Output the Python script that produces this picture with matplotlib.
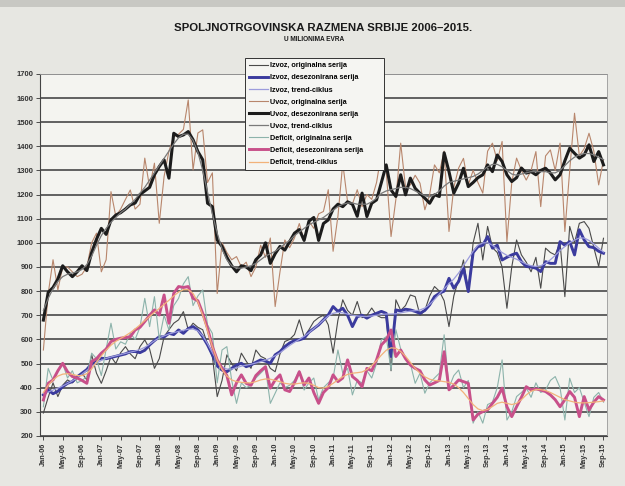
import numpy as np
import pandas as pd
import matplotlib
matplotlib.use("Agg")
import matplotlib.pyplot as plt
from matplotlib.patches import Rectangle

plt.rcParams['font.family'] = ['Liberation Sans', 'DejaVu Sans']

# monthly categories Jan-06 .. Sep-15
months = pd.date_range('2006-01-01', '2015-09-01', freq='MS').strftime('%b-%y').tolist()

# exports (izvoz), million EUR
izvoz_orig = [295, 360, 420, 363, 410, 432, 420, 440, 460, 432, 536, 460,
              418, 470, 529, 500, 545, 570, 540, 520, 570, 598, 560, 480,
              520, 611, 640, 667, 681, 715, 640, 667, 650, 640, 580, 529,
              363, 430, 536, 500, 470, 543, 510, 480, 556, 530, 520, 480,
              466, 540, 591, 600, 620, 681, 611, 640, 674, 690, 700, 660,
              543, 680, 764, 720, 700, 757, 690, 700, 730, 700, 690, 690,
              470, 764, 720, 740, 784, 777, 700, 720, 780, 819, 800, 760,
              653, 780, 850, 929, 800, 1000, 1081, 929, 1068, 980, 960, 900,
              729, 900, 1012, 950, 920, 880, 940, 812, 978, 960, 950, 1000,
              777, 1068, 1000, 1081, 1088, 1060, 980, 902, 1019]
izvoz_desez = [370, 390, 375, 385, 404, 418, 425, 445, 460, 475, 500, 515,
               522, 520, 525, 530, 535, 540, 549, 550, 545, 555, 577, 595,
               611, 610, 625, 620, 639, 625, 645, 653, 639, 611, 577, 536,
               490, 473, 466, 480, 494, 501, 487, 494, 505, 515, 510, 501,
               536, 549, 570, 585, 595, 598, 605, 630, 645, 660, 681, 701,
               736, 716, 729, 700, 653, 694, 700, 688, 700, 708, 716, 708,
               529, 722, 718, 725, 722, 716, 708, 720, 743, 777, 791, 800,
               853, 812, 840, 895, 798, 960, 984, 990, 1026, 978, 990, 929,
               940, 950, 957, 922, 902, 900, 895, 881, 922, 915, 915, 1005,
               990, 1005, 950, 1054, 1012, 984, 980, 965, 957]
izvoz_trend = [375, 382, 390, 398, 407, 417, 428, 441, 456, 472, 488, 502,
               513, 521, 527, 532, 537, 542, 547, 552, 558, 567, 580, 594,
               606, 615, 622, 628, 633, 638, 642, 643, 635, 615, 582, 545,
               510, 487, 477, 477, 483, 489, 493, 497, 502, 508, 514, 522,
               532, 545, 560, 575, 588, 600, 613, 628, 645, 662, 680, 697,
               708, 712, 710, 705, 700, 697, 695, 695, 697, 700, 703, 705,
               705, 706, 710, 714, 717, 719, 722, 730, 745, 765, 788, 810,
               830, 850, 875, 905, 935, 965, 990, 1000, 1000, 990, 975, 960,
               948, 940, 932, 922, 912, 905, 902, 905, 915, 930, 948, 968,
               985, 1000, 1012, 1020, 1020, 1010, 995, 978, 962]

# imports (uvoz), million EUR
uvoz_orig = [556, 790, 930, 805, 900, 900, 880, 860, 870, 900, 1000, 1040,
             880, 930, 1212, 1110, 1140, 1180, 1219, 1140, 1160, 1351, 1230, 1330,
             1081, 1275, 1380, 1440, 1450, 1470, 1592, 1302, 1455, 1468, 1250, 1290,
             790, 1000, 960, 930, 943, 900, 920, 860, 900, 990, 940, 1020,
             736, 880, 1012, 980, 1020, 1080, 1010, 1090, 1060, 1120, 1130, 1220,
             965, 1110, 1330, 1170, 1160, 1220, 1150, 1200, 1180, 1250, 1371, 1300,
             1026, 1180, 1413, 1230, 1240, 1280, 1247, 1137, 1200, 1323, 1290, 1380,
             1047, 1230, 1310, 1350, 1240, 1300, 1250, 1206, 1380, 1413, 1340, 1420,
             1005, 1250, 1351, 1300, 1260, 1300, 1378, 1150, 1360, 1385, 1300, 1413,
             1047, 1300, 1537, 1360, 1390, 1454, 1380, 1240, 1344]
uvoz_desez = [680, 795, 815, 850, 905, 880, 860, 880, 905, 885, 960, 1015,
              1060, 1035, 1095, 1115, 1125, 1140, 1157, 1165, 1200, 1215, 1230, 1282,
              1316, 1344, 1268, 1454, 1440, 1447, 1461, 1427, 1378, 1344, 1164, 1150,
              1012, 985, 940, 905, 880, 905, 900, 885, 930, 950, 1000, 915,
              955, 985, 970, 1005, 1040, 1055, 1010, 1090, 1105, 1010, 1080, 1095,
              1140, 1160, 1150, 1170, 1160, 1110, 1206, 1109, 1164, 1178, 1250, 1323,
              1219, 1192, 1282, 1199, 1268, 1226, 1205, 1185, 1164, 1199, 1192, 1373,
              1295, 1206, 1247, 1309, 1233, 1250, 1270, 1282, 1323, 1295, 1364, 1337,
              1282, 1254, 1270, 1310, 1289, 1295, 1282, 1300, 1309, 1289, 1261, 1282,
              1340, 1392, 1371, 1351, 1364, 1406, 1337, 1378, 1323]
uvoz_trend = [720, 770, 810, 840, 860, 870, 875, 880, 890, 910, 945, 990,
              1030, 1060, 1085, 1105, 1125, 1140, 1160, 1180, 1205, 1230, 1260, 1290,
              1320, 1350, 1380, 1410, 1435, 1450, 1450, 1425, 1375, 1300, 1210, 1120,
              1040, 975, 930, 905, 895, 895, 900, 905, 915, 930, 945, 955,
              965, 980, 995, 1010, 1030, 1045, 1060, 1075, 1085, 1095, 1105, 1120,
              1135, 1150, 1160, 1165, 1165, 1160, 1160, 1160, 1170, 1185, 1205, 1215,
              1220, 1225, 1230, 1230, 1225, 1215, 1205, 1195, 1190, 1200, 1215, 1235,
              1250, 1255, 1260, 1265, 1270, 1275, 1285, 1300, 1315, 1325, 1325, 1315,
              1300, 1285, 1280, 1285, 1290, 1295, 1295, 1295, 1295, 1290, 1290, 1300,
              1320, 1340, 1355, 1365, 1370, 1370, 1365, 1355, 1345]

# trade deficit, million EUR
deficit_orig = [321, 480, 430, 470, 500, 440, 470, 420, 430, 446, 543, 520,
                450, 560, 667, 560, 590, 580, 625, 600, 650, 770, 653, 777,
                600, 700, 639, 740, 770, 830, 860, 740, 780, 805, 660, 625,
                420, 556, 570, 430, 335, 420, 400, 410, 440, 460, 480, 335,
                377, 420, 400, 410, 430, 470, 390, 420, 440, 350, 400, 420,
                440, 556, 460, 480, 370, 430, 420, 470, 440, 500, 598, 611,
                473, 640, 560, 520, 500, 418, 460, 377, 420, 440, 460, 619,
                400, 450, 473, 400, 430, 253, 300, 253, 330, 340, 400, 515,
                266, 300, 363, 380, 400, 360, 420, 380, 390, 430, 446, 400,
                266, 439, 380, 400, 340, 280, 360, 380, 340]
deficit_desez = [349, 418, 432, 470, 501, 466, 446, 440, 430, 418, 508, 520,
                 543, 560, 591, 600, 605, 608, 611, 639, 650, 674, 700, 722,
                 701, 784, 667, 791, 819, 815, 819, 770, 760, 708, 646, 570,
                 515, 480, 450, 370, 420, 453, 418, 410, 450, 470, 487, 398,
                 432, 453, 391, 384, 420, 466, 411, 440, 380, 335, 380, 400,
                 453, 425, 440, 515, 446, 430, 404, 480, 470, 515, 577, 598,
                 639, 529, 556, 520, 494, 480, 470, 432, 411, 420, 430, 549,
                 391, 410, 432, 425, 418, 266, 290, 301, 308, 335, 360, 398,
                 321, 280, 321, 360, 404, 391, 395, 390, 384, 370, 350, 321,
                 350, 384, 360, 280, 363, 308, 340, 363, 349]
deficit_trend = [380, 410, 432, 448, 456, 458, 455, 450, 450, 458, 478, 505,
                 532, 556, 576, 592, 604, 615, 628, 643, 660, 678, 695, 712,
                 728, 745, 762, 780, 796, 806, 806, 790, 755, 700, 635, 570,
                 515, 475, 448, 432, 425, 422, 420, 420, 425, 432, 436, 435,
                 430, 425, 418, 415, 415, 418, 420, 418, 410, 400, 398, 405,
                 418, 432, 445, 455, 460, 462, 465, 475, 492, 512, 535, 555,
                 565, 563, 550, 530, 505, 480, 460, 445, 435, 430, 428, 425,
                 422, 415, 400, 380, 355, 330, 312, 305, 310, 322, 335, 340,
                 335, 330, 335, 350, 370, 385, 392, 392, 388, 380, 370, 360,
                 350, 345, 340, 337, 337, 338, 340, 342, 345]

series = [
    ('Izvoz, originalna serija', izvoz_orig, '#4a4a4a', 0.8),
    ('Izvoz, desezonirana serija', izvoz_desez, '#3b3b9e', 2.1),
    ('Izvoz, trend-ciklus', izvoz_trend, '#9c9cdc', 0.9),
    ('Uvoz, originalna serija', uvoz_orig, '#b8866c', 0.8),
    ('Uvoz, desezonirana serija', uvoz_desez, '#1c1c1c', 2.2),
    ('Uvoz, trend-ciklus', uvoz_trend, '#7a7a7a', 0.9),
    ('Deficit, originalna serija', deficit_orig, '#8cb3ab', 0.8),
    ('Deficit, desezonirana serija', deficit_desez, '#c8508a', 2.1),
    ('Deficit, trend-ciklus', deficit_trend, '#f2b27a', 0.9),
]

fig = plt.figure(figsize=(6.25, 4.86), dpi=100)
fig.patch.set_facecolor('#e7e7e2')
fig.add_artist(Rectangle((0, 0.986), 1, 0.014, transform=fig.transFigure,
                         facecolor='#c8c8c3', edgecolor='none'))

ax = fig.add_axes([0.064, 0.103, 0.907, 0.745])
ax.set_facecolor('#f4f4f0')

x = np.arange(len(months))
for label, vals, color, lw in series:
    ax.plot(x, vals, color=color, lw=lw, label=label)

ax.set_xlim(-0.7, len(months) - 0.3)
ax.set_ylim(200, 1700)
ax.set_yticks(range(200, 1701, 100))
ax.yaxis.grid(True, color='#555555', lw=1.3)
ax.set_axisbelow(True)
ax.set_xticks(x[::4])
ax.set_xticklabels(months[::4], rotation=90, fontsize=5.3, fontweight='bold')
for t in ax.get_yticklabels():
    t.set_fontsize(5.5)
    t.set_fontweight('bold')
ax.tick_params(axis='both', length=3, width=0.6, colors='#333333', pad=2)
for side in ['left', 'bottom']:
    ax.spines[side].set_color('#444444')
    ax.spines[side].set_linewidth(0.8)
for side in ['right', 'top']:
    ax.spines[side].set_color('#9a9a9a')
    ax.spines[side].set_linewidth(0.6)

fig.text(0.517, 0.942, 'SPOLJNOTRGOVINSKA RAZMENA SRBIJE 2006\u20132015.',
         ha='center', va='center', fontsize=8.2, fontweight='bold', color='#1a1a1a')
fig.text(0.502, 0.918, 'U MILIONIMA EVRA', ha='center', va='center',
         fontsize=4.7, fontweight='bold', color='#1a1a1a')

leg = ax.legend(loc='upper left', bbox_to_anchor=(0.392, 0.667, 0.222, 0.214),
                bbox_transform=fig.transFigure, mode='expand', borderaxespad=0,
                prop={'size': 5.2, 'weight': 'bold'},
                fancybox=False, framealpha=1, edgecolor='#333333', facecolor='#f5f5f2',
                handlelength=2.6, handletextpad=0.2, labelspacing=0.7, borderpad=0.6)
leg.get_frame().set_linewidth(0.7)

fig.savefig('out.png', dpi=100, facecolor=fig.get_facecolor())
